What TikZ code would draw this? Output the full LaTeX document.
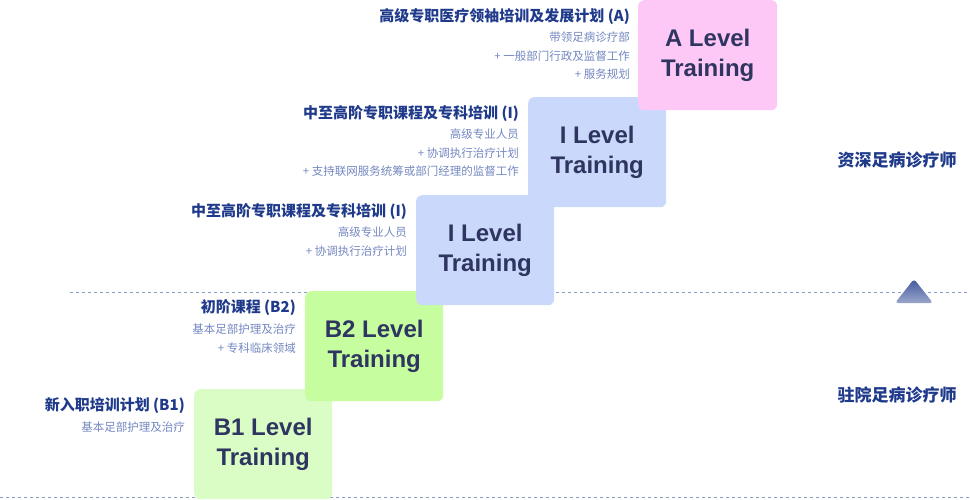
\documentclass[tikz,border=0pt]{standalone}
\usepackage{fontspec}
\setmainfont{Liberation Sans}
\newfontfamily\cjk{Noto Sans CJK SC}
\usetikzlibrary{positioning}
\definecolor{navy}{HTML}{1F3A8A}
\definecolor{ink}{HTML}{2E3560}
\definecolor{subtxt}{HTML}{7387C0}
\definecolor{pinkbox}{HTML}{FDC8F5}
\definecolor{bluebox}{HTML}{C9D8FB}
\definecolor{greenbox}{HTML}{C6FD9F}
\definecolor{paleg}{HTML}{DAFDC5}
\definecolor{dashc}{HTML}{8A9CC8}
\tikzset{
  levelbox/.style={rounded corners=6pt, minimum width=138pt, minimum height=110pt, anchor=north west, align=center, text=ink, font=\fontsize{24}{30}\selectfont\bfseries},
  title/.style={anchor=east, text=navy, font=\cjk\fontsize{15}{18}\selectfont\bfseries, inner sep=0pt},
  sub/.style={anchor=north east, align=right, text=subtxt, font=\cjk\fontsize{11.5}{18.5}\selectfont, inner sep=0pt},
  side/.style={text=navy, font=\cjk\fontsize{17}{20}\selectfont\bfseries}
}
\begin{document}
\begin{tikzpicture}[x=1pt,y=-1pt]
\useasboundingbox (0,0) rectangle (970,500);

% dashed separators
\draw[dashc, dashed] (70,292) -- (970,292);
\draw[dashc, dashed] (0,497) -- (970,497);

% steps, bottom first
\node[levelbox, fill=paleg] (b1) at (194,389) {B1 Level\\Training};
\node[levelbox, fill=greenbox] (b2) at (305,291) {B2 Level\\Training};
\node[levelbox, fill=bluebox] (i1) at (416,195) {I Level\\Training};
\node[levelbox, fill=bluebox] (i2) at (528,97) {I Level\\Training};
\node[levelbox, fill=pinkbox, minimum width=139pt] (a) at (638,0) {A Level\\Training};

% descriptions
\node[title] (ta) at (630,17) {高级专职医疗领袖培训及发展计划 (A)};
\node[sub] (sa) at (630,32) {带领足病诊疗部\\+ 一般部门行政及监督工作\\+ 服务规划};
\node[title] (ti2) at (519,114) {中至高阶专职课程及专科培训 (I)};
\node[sub] (si2) at (519,129) {高级专业人员\\+ 协调执行治疗计划\\+ 支持联网服务统筹或部门经理的监督工作};
\node[title] (ti1) at (407,212) {中至高阶专职课程及专科培训 (I)};
\node[sub] (si1) at (407,227) {高级专业人员\\+ 协调执行治疗计划};
\node[title] (tb2) at (296,308) {初阶课程 (B2)};
\node[sub] (sb2) at (296,324) {基本足部护理及治疗\\+ 专科临床领域};
\node[title] (tb1) at (185,406) {新入职培训计划 (B1)};
\node[sub] (sb1) at (185,422) {基本足部护理及治疗};

% side labels
\node[side] (senior) at (897,160) {资深足病诊疗师};
\node[side] (resident) at (897,395) {驻院足病诊疗师};
\shade[top color=navy!85, bottom color=navy!45, rounded corners=3pt] (914,279) -- (933,303) -- (895,303) -- cycle;
\end{tikzpicture}
\end{document}
